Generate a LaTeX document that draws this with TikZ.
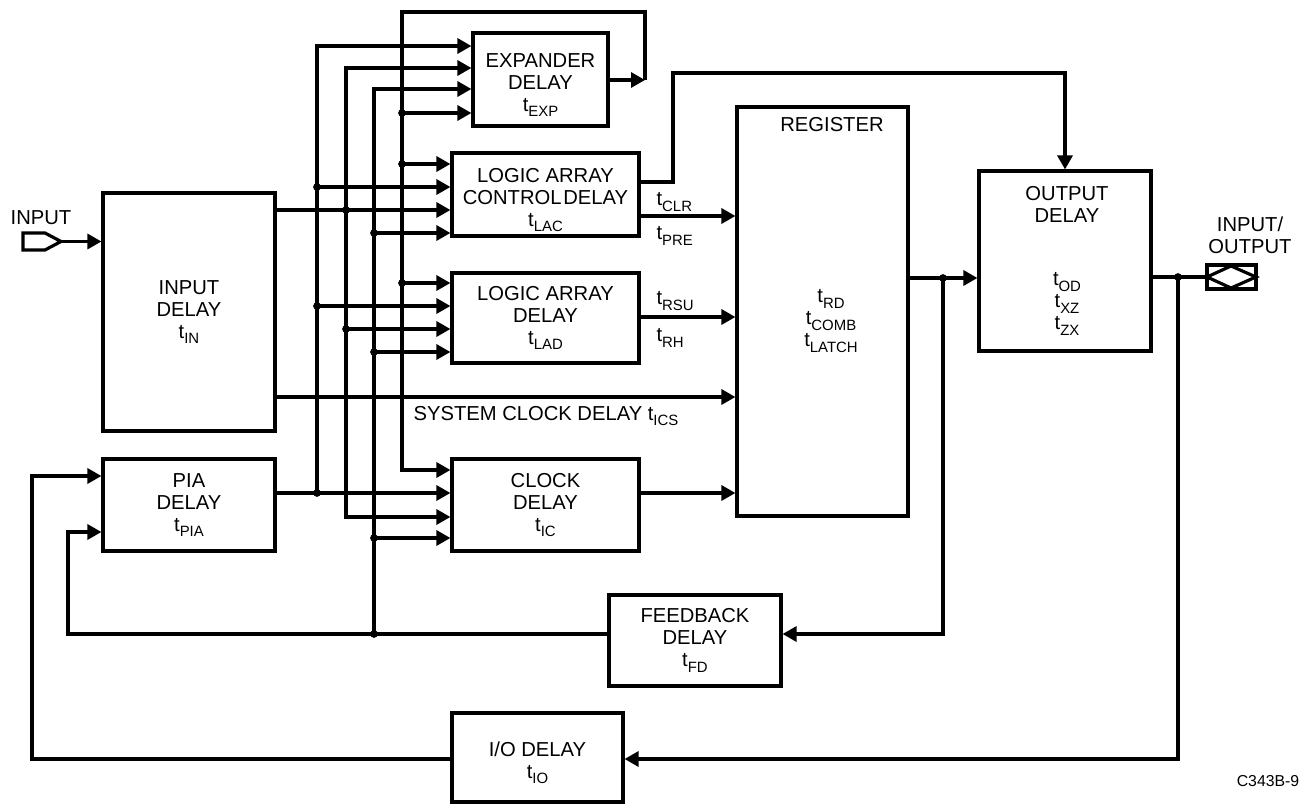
\documentclass[tikz,border=0pt]{standalone}
\usepackage{fontspec}
\setmainfont{Liberation Sans}
\usetikzlibrary{arrows.meta}

\newcommand{\tdel}[1]{t\raisebox{-0.5ex}{\fontsize{8.5}{9}\selectfont #1}}

\tikzset{
    blk/.style={draw, align=center, inner sep=0pt},
    arr/.style={-{Triangle[length=0.28cm,width=0.3cm]}},
    arrs/.style={{Triangle[length=0.28cm,width=0.3cm]}-{Triangle[length=0.28cm,width=0.3cm]}},
    lbl/.style={inner sep=0pt, align=center},
}

\begin{document}
\begin{tikzpicture}[x=0.02cm, y=-0.02cm, line width=1.8pt,
    font=\fontsize{11.5}{12.5}\selectfont]

    \useasboundingbox (0,0) rectangle (1302,804);

    % Blocks
    \node[blk, minimum width=3.44cm, minimum height=4.76cm] (in) at (189,312) {INPUT\\DELAY\\\tdel{IN}};
    \node[blk, minimum width=3.44cm, minimum height=1.84cm] (pia) at (189,505) {PIA\\DELAY\\\tdel{PIA}};
    \node[blk, minimum width=2.7cm, minimum height=1.86cm] (exp) at (540.5,79.5) {\rule{0pt}{14pt}EXPANDER\\DELAY\\\tdel{EXP}};
    \node[blk, minimum width=3.74cm, minimum height=1.66cm] (lac) at (545.5,194.5) {\rule{0pt}{14pt}LOGIC ARRAY\\CONTROL\kern1pt DELAY\\\tdel{LAC}};
    \node[blk, minimum width=3.74cm, minimum height=1.8cm] (lad) at (545.5,318) {LOGIC ARRAY\\DELAY\\\tdel{LAD}};
    \node[blk, minimum width=3.74cm, minimum height=1.84cm] (clk) at (545.5,505) {CLOCK\\DELAY\\\tdel{IC}};
    \node[blk, minimum width=3.42cm, minimum height=8.18cm] (reg) at (822.5,311.5) {};
    \node[blk, minimum width=3.44cm, minimum height=3.6cm] (out) at (1065,261) {};
    \node[blk, minimum width=3.44cm, minimum height=1.82cm] (fb) at (695,640.5) {FEEDBACK\\DELAY\\\tdel{FD}};
    \node[blk, minimum width=3.42cm, minimum height=1.78cm] (io) at (537.5,757.5) {\rule{0pt}{14pt}I/O DELAY\\\tdel{IO}};

    % Texts inside register and output delay
    \node[lbl] (regname) at (832,125) {REGISTER};
    \node[lbl] (regt) at (831,321) {\tdel{RD}\\\tdel{COMB}\\\tdel{LATCH}};
    \node[lbl] (outname) at (1067,204) {OUTPUT\\DELAY};
    \node[lbl] (outt) at (1067,304) {\tdel{OD}\\\tdel{XZ}\\\tdel{ZX}};

    % Pins
    \draw (23,233) -- (45,233) -- (61,241.5) -- (45,250) -- (23,250) -- cycle;
    \coordinate (inpin) at (61,241.5);
    \node[lbl] (inlabel) at (41,218) {INPUT};
    \draw (1207,265) rectangle (1256,289);
    \draw (1207,277) -- (1231,266) -- (1256,277) -- (1231,288) -- cycle;
    \coordinate (iopin) at (1207,277);
    \node[lbl] (iolabel) at (1250,235) {INPUT/\\OUTPUT};

    % Input delay
    \draw[arr] (inpin) -- (in.west |- inpin);
    \draw[arr] (in.east |- 0,210) -- (lac.west |- 0,210);
    \draw[arr] (in.east |- 0,397) -- (reg.west |- 0,397);
    \node[lbl, anchor=west] (sysclk) at (412,416) {SYSTEM CLOCK DELAY \tdel{ICS}};
    \draw[arr] (pia.east |- 0,493) -- (clk.west |- 0,493);

    % Buses
    \draw[arr] (317,493) -- (317,46) -- (exp.west |- 0,46);
    \draw[arrs] (exp.west |- 0,68) -- (346,68) -- (346,517) -- (clk.west |- 0,517);
    \draw[arr] (374,634) -- (374,89) -- (exp.west |- 0,89);
    \draw[arr] (exp.east |- 0,80) -- (645,80);
    \draw[arr] (645,80) -- (645,12) -- (402,12) -- (402,470) -- (clk.west |- 0,470);

    % Taps from the buses
    \foreach \bx/\y/\b in {402/113/exp, 402/164/lac, 317/187/lac, 374/233/lac,
        402/283/lad, 317/306/lad, 346/329/lad, 374/352/lad, 374/538/clk}
    {
        \draw[arr] (\bx,\y) -- (\b.west |- 0,\y);
        \fill (\bx,\y) circle (2.2pt);
    }
    \foreach \bx/\y in {346/210, 317/493, 374/634}
        \fill (\bx,\y) circle (2.2pt);

    % Into register and output
    \draw[arr] (lac.east |- 0,182) -- (673,182) -- (673,73) -- (out.north |- 0,73) -- (out.north);
    \draw[arr] (lac.east |- 0,216) -- (reg.west |- 0,216);
    \node[lbl, anchor=west] (tclr) at (655,202) {\tdel{CLR}};
    \node[lbl, anchor=west] (tpre) at (655,236) {\tdel{PRE}};
    \draw[arr] (lad.east |- 0,317) -- (reg.west |- 0,317);
    \node[lbl, anchor=west] (trsu) at (655,301) {\tdel{RSU}};
    \node[lbl, anchor=west] (trh) at (655,338) {\tdel{RH}};
    \draw[arr] (clk.east |- 0,493) -- (reg.west |- 0,493);
    \draw[arr] (reg.east |- 0,278) -- (out.west |- 0,278);
    \fill (943,278) circle (2.2pt);

    % Feedback paths
    \draw[arr] (943,278) -- (943,634) -- (fb.east |- 0,634);
    \draw[arr] (fb.west |- 0,634) -- (68,634) -- (68,532) -- (pia.west |- 0,532);
    \draw (out.east |- 0,277) -- (iopin);
    \fill (1178,277) circle (2.2pt);
    \draw[arr] (1178,277) -- (1178,759) -- (io.east |- 0,759);
    \draw[arr] (io.west |- 0,759) -- (32,759) -- (32,476) -- (pia.west |- 0,476);

    \node[lbl, font=\fontsize{9}{10}\selectfont] (fig) at (1268,781) {C343B-9};

\end{tikzpicture}
\end{document}
